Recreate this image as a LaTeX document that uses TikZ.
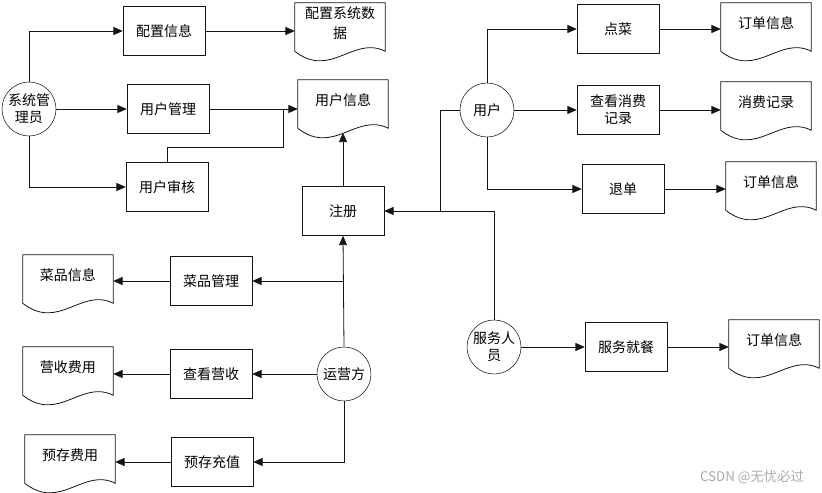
\documentclass[tikz,border=0pt]{standalone}
\usepackage{fontspec}
\setmainfont{Noto Sans CJK SC}
\usepackage{tikz}
\usetikzlibrary{positioning,calc}
\usetikzlibrary{arrows.meta}
\definecolor{FlowBlack}{RGB}{20,20,20}
\definecolor{MarkGray}{RGB}{170,170,170}
\tikzset{
	actor/.style={circle,draw=FlowBlack,fill=white,inner sep=0pt,minimum size=40.5pt,
		align=center,font=\fontsize{10.5}{12.5}\selectfont},
	proc/.style={rectangle,draw=FlowBlack,fill=white,minimum width=61.5pt,minimum height=36.75pt,
		align=center,font=\fontsize{10.5}{13}\selectfont},
	docu/.style={rectangle,draw=none,minimum width=67.5pt,minimum height=30pt,inner sep=0pt,
		align=center,font=\fontsize{10.5}{15}\selectfont},
	docline/.style={draw=FlowBlack,line width=0.6pt},
	flow/.style={draw=FlowBlack,line width=0.6pt,-{Triangle[length=7pt,width=6pt]}},
	link/.style={draw=FlowBlack,line width=0.6pt},
}

\begin{document}
\begin{tikzpicture}[x=0.75pt,y=-0.75pt]
	\useasboundingbox (0,0) rectangle (822,493);
	% system administrator
	\node[actor] (admin) at (29,109) {系统管\\理员};
	\node[proc] (cfg) at (164,31) {配置信息};
	\node[proc] (usermgr) at (168,109) {用户管理};
	\node[proc] (audit) at (167,187) {用户审核};
	\node[docu] (cfgdata) at (340,23) {配置系统数\\据};
	\node[docu] (userinfo) at (343,100) {用户信息};
	\node[proc] (reg) at (343,211) {注册};
	% user
	\node[actor] (user) at (487,110) {用户};
	\node[proc] (order) at (618,29) {点菜};
	\node[proc] (viewcost) at (618,110) {查看消费\\记录};
	\node[proc] (cancel) at (623,189) {退单};
	\node[docu] (orderinfoa) at (766,23) {订单信息};
	\node[docu] (costrec) at (766,102) {消费记录};
	\node[docu] (orderinfob) at (771,182) {订单信息};
	% waiter
	\node[actor] (waiter) at (494,347) {服务人\\员};
	\node[proc] (serve) at (626,347) {服务就餐};
	\node[docu] (orderinfoc) at (774,340) {订单信息};
	% operator
	\node[actor] (oper) at (344,374) {运营方};
	\node[proc] (dishmgr) at (211,281) {菜品管理};
	\node[proc] (viewrev) at (211,374) {查看营收};
	\node[proc] (deposit) at (212,462) {预存充值};
	\node[docu] (dishinfo) at (68,275) {菜品信息};
	\node[docu] (revenue) at (68,367) {营收费用};
	\node[docu] (depfee) at (70,455) {预存费用};
	% document outlines
	\foreach \d in {cfgdata,userinfo,orderinfoa,costrec,orderinfob,orderinfoc,dishinfo,revenue,depfee}
	\draw[docline] ([yshift=-6pt]\d.south west) -- (\d.north west) -- (\d.north east) -- ([yshift=-6pt]\d.south east)
		.. controls ([xshift=43.9pt,yshift=6pt]\d.south west) and ([xshift=27pt,yshift=-27pt]\d.south west) .. ([yshift=-6pt]\d.south west);
	\coordinate (auditbend) at (283,147);
	\coordinate (userjoin) at (440,211);
	\coordinate (dishjoin) at (oper.north |- dishmgr.east);
	% connectors
	\draw[flow] (admin.north) |- (cfg.west);
	\draw[flow] (admin.east) -- (usermgr.west);
	\draw[flow] (admin.south) |- (audit.west);
	\draw[flow] (cfg.east) -- (cfg.east -| cfgdata.west);
	\draw[flow] (usermgr.east) -- (usermgr.east -| userinfo.west);
	\draw[link] (audit.north) |- (auditbend) -- (auditbend |- usermgr.east);
	\draw[flow] (reg.north) -- ([yshift=-9.4pt]userinfo.south);
	\draw[flow] (user.north) |- (order.west);
	\draw[flow] (user.east) -- (viewcost.west);
	\draw[flow] (user.south) |- (cancel.west);
	\draw[flow] (order.east) -- (order.east -| orderinfoa.west);
	\draw[flow] (viewcost.east) -- (viewcost.east -| costrec.west);
	\draw[flow] (cancel.east) -- (cancel.east -| orderinfob.west);
	\draw[link] (user.west) -| (userjoin);
	\draw[flow] (waiter.north) |- (reg.east);
	\draw[flow] (waiter.east) -- (serve.west);
	\draw[flow] (serve.east) -- (serve.east -| orderinfoc.west);
	\draw[flow] (oper.north) -- (reg.south);
	\draw[flow] (dishjoin) -- (dishmgr.east);
	\draw[flow] (oper.west) -- (viewrev.east);
	\draw[flow] (oper.south) |- (deposit.east);
	\draw[flow] (dishmgr.west) -- (dishmgr.west -| dishinfo.east);
	\draw[flow] (viewrev.west) -- (viewrev.west -| revenue.east);
	\draw[flow] (deposit.west) -- (deposit.west -| depfee.east);
	\node[font=\fontsize{10}{12}\selectfont,text=MarkGray] (mark) at (752,477) {CSDN @无忧必过};
\end{tikzpicture}
\end{document}
